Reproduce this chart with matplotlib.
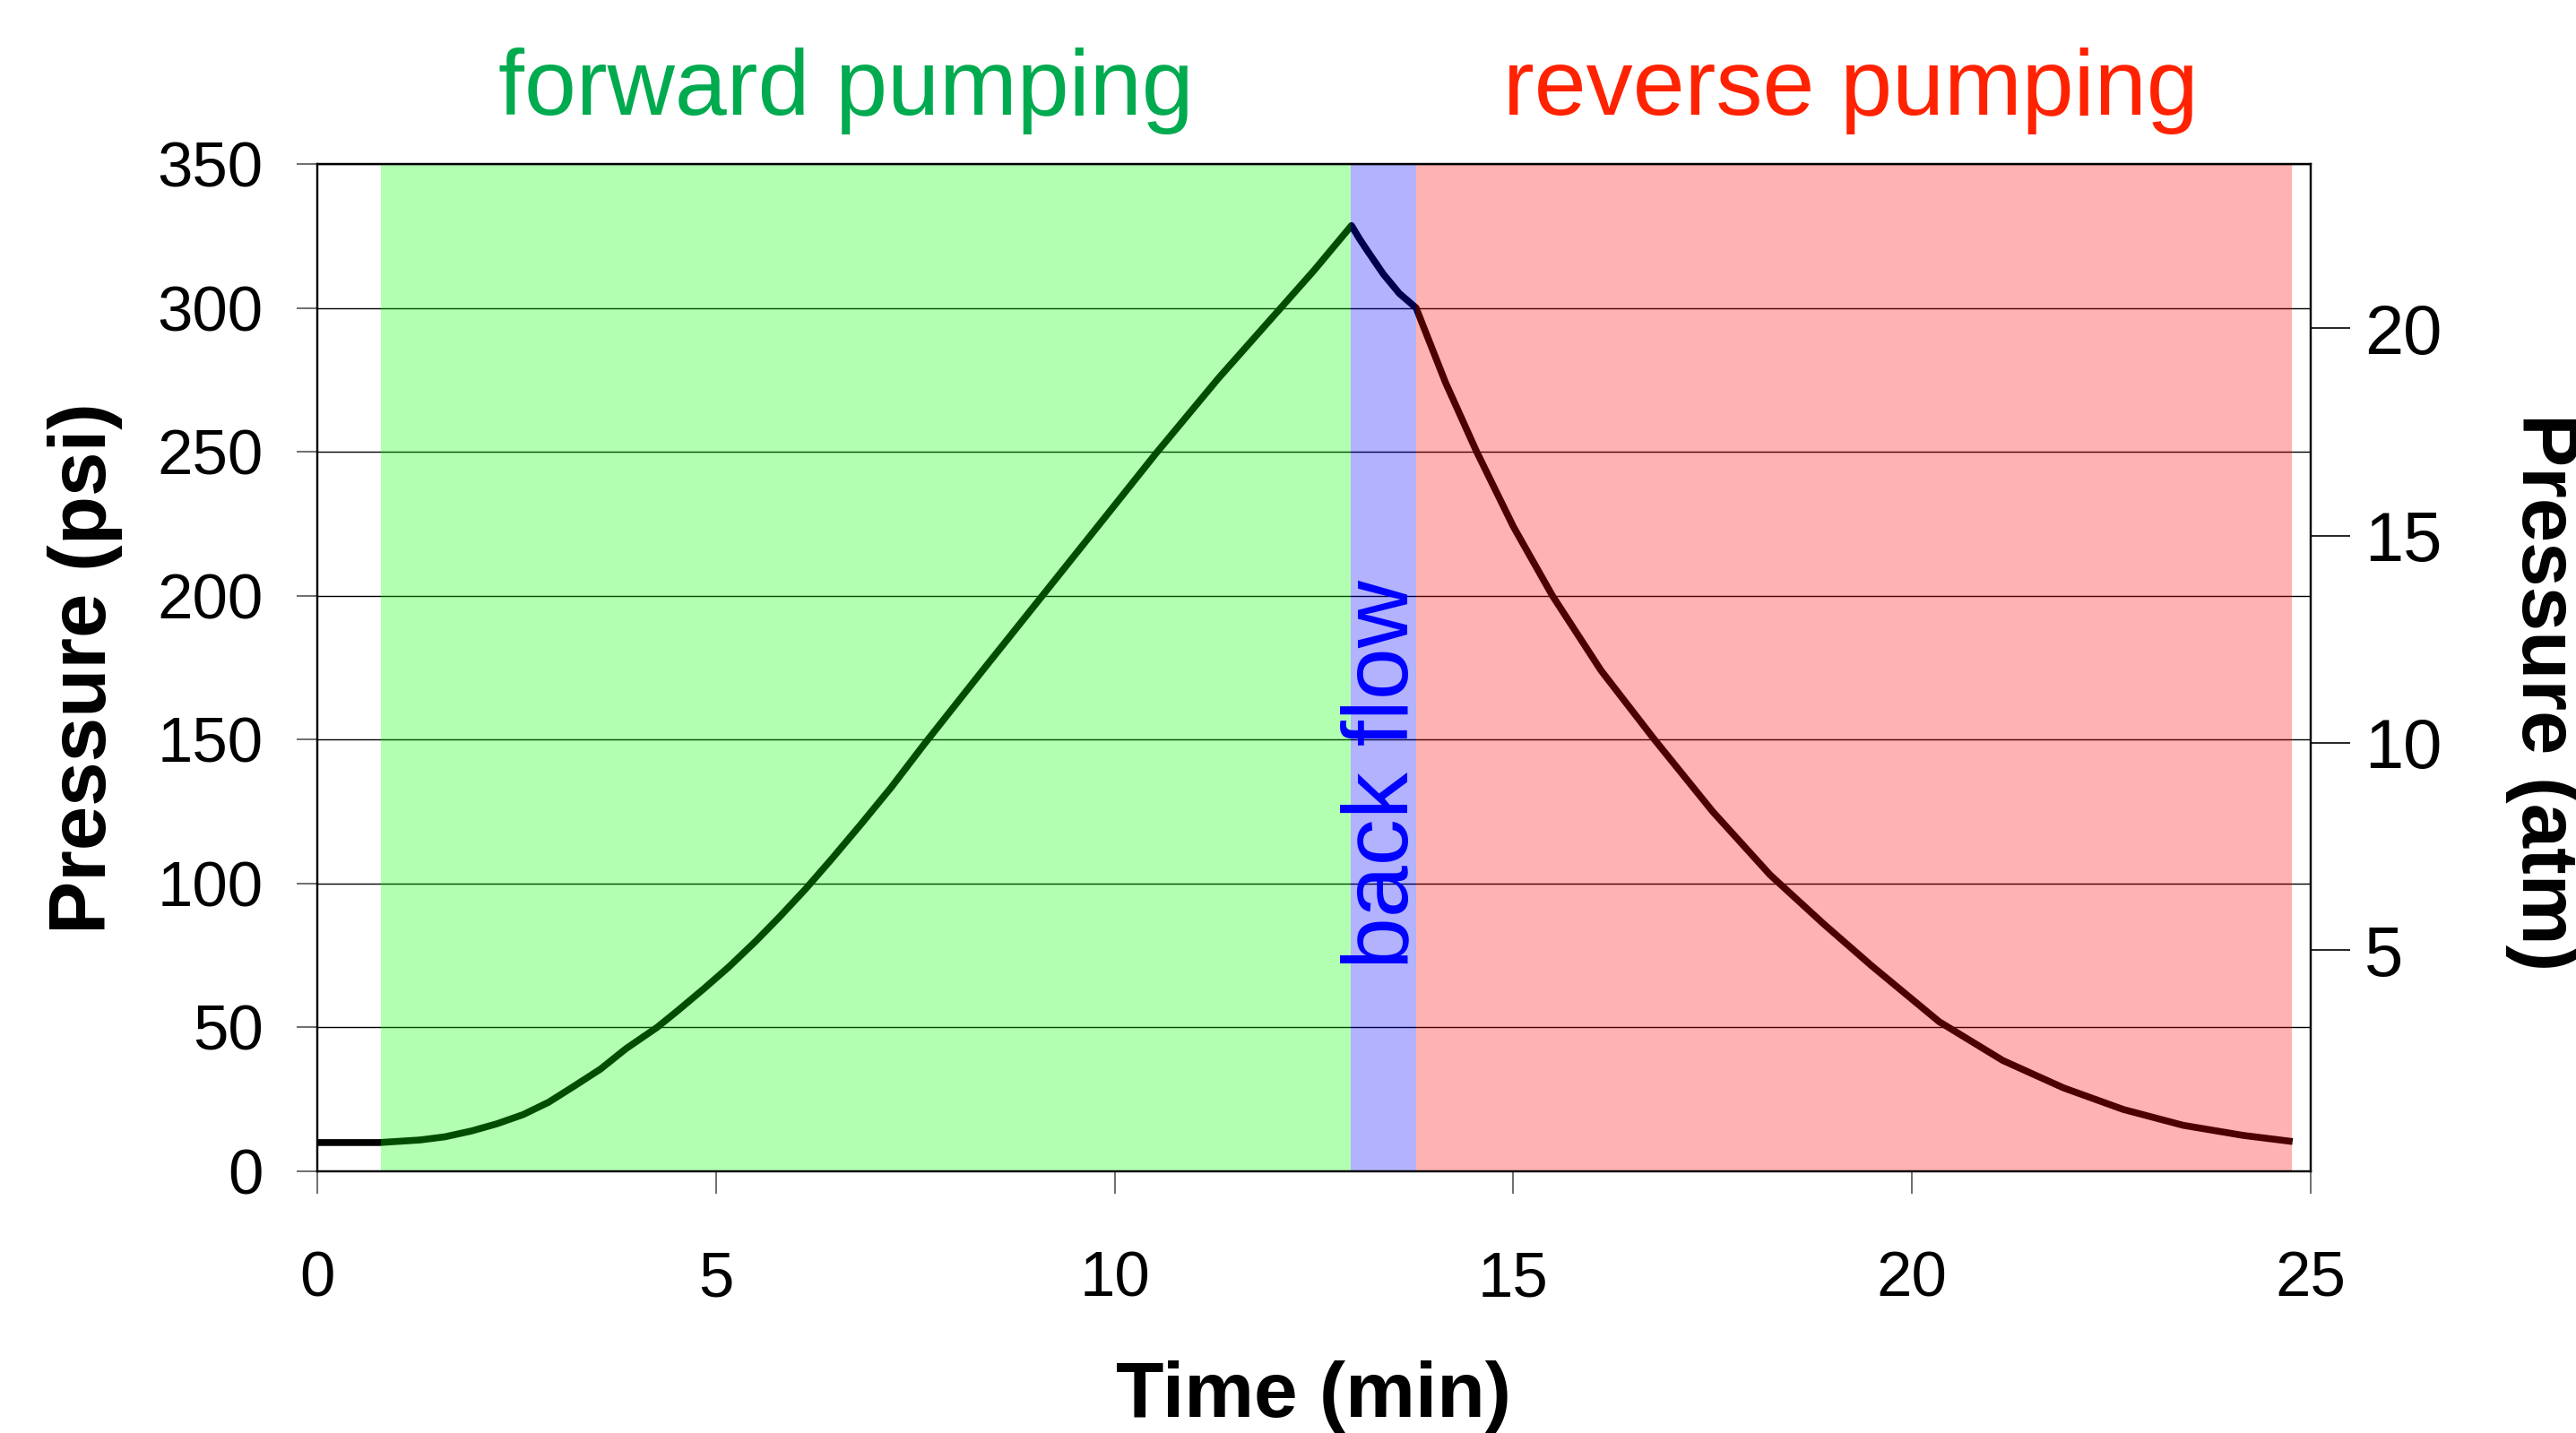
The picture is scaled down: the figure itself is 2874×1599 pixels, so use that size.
import matplotlib
matplotlib.use('Agg')
import matplotlib.pyplot as plt

plt.rcParams['font.family'] = ['Liberation Sans', 'DejaVu Sans']

# pressure trace (min, psi)
time_min = [0, 0.78, 1.29, 1.6, 1.93, 2.25, 2.58, 2.9, 3.22, 3.55, 3.87, 4.26,
            4.51, 4.85, 5.16, 5.5, 5.80, 6.12, 6.45, 6.83, 7.2, 7.60, 8.3, 9.05,
            9.8, 10.52, 11.3, 12.10, 12.5, 12.97,
            13.07, 13.17, 13.37, 13.57, 13.78,
            14.15, 14.54, 15.0, 15.49, 16.1, 16.77, 17.5, 18.22, 18.89, 19.49,
            20.34, 21.14, 21.9, 22.65, 23.4, 24.15, 24.73]
pressure_psi = [10, 10, 10.9, 12, 14, 16.5, 19.7, 24, 29.6, 35.5, 42.6, 50,
                55.6, 63.5, 71, 80, 88.5, 98, 108.5, 121, 133.5, 148, 172.5, 198.5,
                224.5, 249.5, 275.5, 300.5, 313, 328.6,
                324, 319.8, 311.7, 305, 300,
                274, 250, 224, 200, 174, 150, 125, 103, 86, 71.5,
                52, 38.5, 29, 21.5, 16, 12.5, 10.5]

# phases (start, end, colour)
phase_start = [0.8, 12.96, 13.78]
phase_end = [12.96, 13.78, 24.76]
phase_color = ['#00ff00', '#0000ff', '#ff0000']

x_ticks = [0, 5, 10, 15, 20, 25]
y_ticks = [0, 50, 100, 150, 200, 250, 300, 350]
atm_ticks = [5, 10, 15, 20]

fig = plt.figure(figsize=(28.74, 15.99), dpi=100)
ax = fig.add_axes([0.1232, 0.1826, 0.7738, 0.7030])

ax.grid(axis='y', color='black', linewidth=1.0)
ax.set_axisbelow(True)

ax.plot(time_min, pressure_psi, color='black', linewidth=5.5, zorder=1.5,
        solid_joinstyle='round')

for s, e, c in zip(phase_start, phase_end, phase_color):
    ax.axvspan(s, e, color=c, alpha=0.3, linewidth=0, zorder=2)

ax.set_xlim(0, 25)
ax.set_ylim(0, 350)
ax.set_xticks(x_ticks)
ax.set_yticks(y_ticks)
ax.tick_params(axis='x', direction='out', length=18, width=1.2, pad=46,
               labelsize=51, color='#555555')
ax.tick_params(axis='y', direction='out', length=16.5, width=1.2, pad=27,
               labelsize=51, color='#555555')
for sp in ax.spines.values():
    sp.set_linewidth(1.6)
    sp.set_zorder(3)

# right-hand atm scale as drawn in the original (slightly offset)
ax2 = ax.twinx()
ax2.set_ylim(-0.34, 23.97)
ax2.set_yticks(atm_ticks)
ax2.tick_params(axis='y', direction='out', length=32, width=1.2, pad=11,
                labelsize=56)
for sp in ax2.spines.values():
    sp.set_linewidth(1.6)

ax.text(13.37, 138, 'back flow', rotation=90, ha='center', va='center',
        fontsize=75, color='#0000ff', zorder=4)

fig.text(0.3285, 0.92, 'forward pumping', ha='center', va='baseline',
         fontsize=75, color='#00aa4f')
fig.text(0.7185, 0.92, 'reverse pumping', ha='center', va='baseline',
         fontsize=75, color='#ff2200')

fig.text(0.510, 0.0113, 'Time (min)', ha='center', va='baseline',
         fontsize=63, fontweight='bold')
fig.text(0.0330, 0.534, 'Pressure (psi)', rotation=90, ha='center', va='center',
         fontsize=64, fontweight='bold')
fig.text(0.9870, 0.517, 'Pressure (atm)', rotation=270, ha='center', va='center',
         fontsize=64, fontweight='bold')

fig.savefig('out.png', dpi=100)
